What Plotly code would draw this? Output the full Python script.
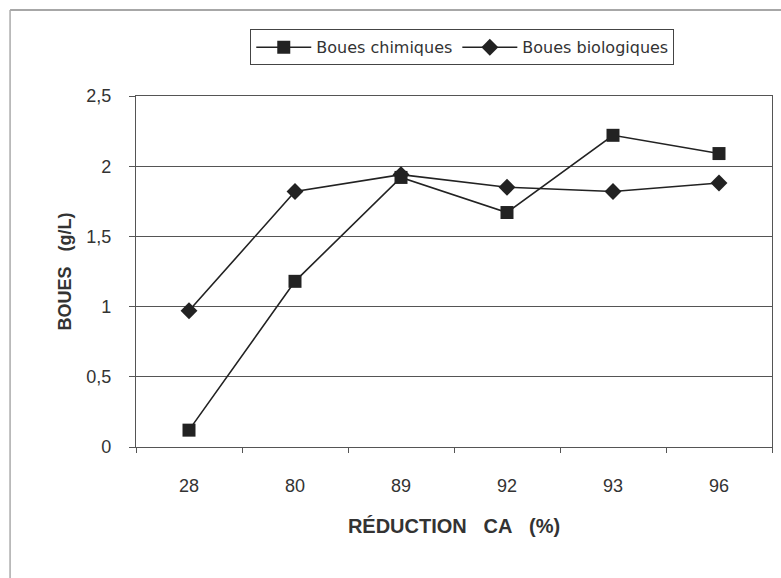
import plotly.graph_objects as go

# Reduction CA (%) categories and sludge concentrations (g/L)
categories = ["28", "80", "89", "92", "93", "96"]
boues_chimiques = [0.12, 1.18, 1.92, 1.67, 2.22, 2.09]
boues_biologiques = [0.97, 1.82, 1.94, 1.85, 1.82, 1.88]
y_ticks = [0, 0.5, 1, 1.5, 2, 2.5]

FONT = "Liberation Sans, Arial, sans-serif"
INK = "#222222"

fig = go.Figure()
fig.add_trace(go.Scatter(
    x=categories, y=boues_chimiques, name="Boues chimiques",
    mode="lines+markers",
    line=dict(color=INK, width=1.6),
    marker=dict(symbol="square", size=13, color=INK),
))
fig.add_trace(go.Scatter(
    x=categories, y=boues_biologiques, name="Boues biologiques",
    mode="lines+markers",
    line=dict(color=INK, width=1.6),
    marker=dict(symbol="diamond", size=13, color=INK),
))

fig.update_layout(
    width=781, height=578,
    margin=dict(l=136, r=9, t=96, b=131),
    paper_bgcolor="white", plot_bgcolor="white",
    separators=", ",
    font=dict(family=FONT, color="#333333"),
    showlegend=True,
    legend=dict(
        orientation="h", x=0.513, xanchor="center", y=1.19, yanchor="top",
        bordercolor="#444444", borderwidth=1, bgcolor="white",
        font=dict(size=16, color="#333333", family="DejaVu Sans, sans-serif"),
        itemsizing="trace", itemwidth=55, tracegroupgap=0,
    ),
    shapes=[
        dict(type="line", xref="paper", yref="paper",
             x0=-0.198, x1=1.02, y0=1.245, y1=1.245,
             line=dict(color="#8a8a8a", width=1.5)),
        dict(type="line", xref="paper", yref="paper",
             x0=-0.198, x1=-0.198, y0=1.245, y1=-0.373,
             line=dict(color="#aaaaaa", width=1.5)),
    ],
)

fig.update_xaxes(
    type="category", categoryorder="array", categoryarray=categories,
    range=[-0.5, len(categories) - 0.5],
    showline=True, linecolor="#555555", linewidth=1.2, mirror=True,
    ticks="outside", tickson="boundaries", ticklen=5, tickcolor="#555555",
    ticklabelstandoff=22,
    tickfont=dict(size=18, color="#333333"),
    showgrid=False,
    title=dict(text="<b>RÉDUCTION&nbsp;&nbsp; CA&nbsp;&nbsp; (%)</b>",
               font=dict(size=20, color="#333333"), standoff=24),
)
fig.update_yaxes(
    range=[0, 2.5], tickvals=y_ticks,
    showline=True, linecolor="#555555", linewidth=1.2, mirror=True,
    ticks="outside", ticklen=6, tickcolor="#555555",
    ticklabelstandoff=14,
    tickfont=dict(size=18, color="#333333"),
    showgrid=True, gridcolor="#555555", gridwidth=1.2,
    zeroline=False,
    title=dict(text="<b>BOUES&nbsp;&nbsp; (g/L)</b>", font=dict(size=18, color="#333333"), standoff=9),
)

fig.write_html("out.html")
